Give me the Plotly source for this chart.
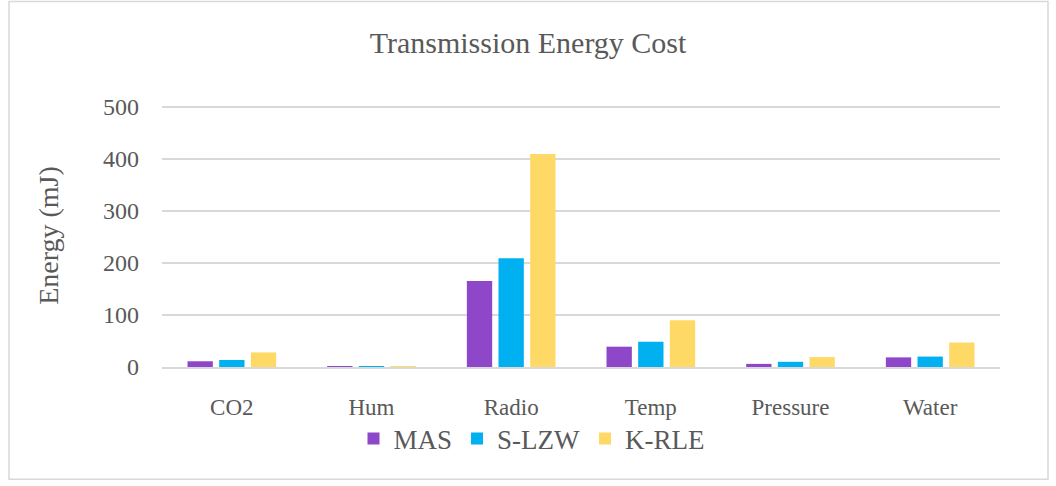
import plotly.graph_objects as go

categories = ["CO2", "Hum", "Radio", "Temp", "Pressure", "Water"]
mas = [11, 1, 165, 39, 6, 18.5]
slzw = [13.5, 1.2, 209, 48.5, 10, 20]
krle = [28, 1.4, 409, 90, 19, 47]
y_ticks = [0, 100, 200, 300, 400, 500]

series = [("MAS", mas, "#8E47C9"), ("S-LZW", slzw, "#00B0F0"), ("K-RLE", krle, "#FFD966")]

fig = go.Figure()
for name, vals, col in series:
    fig.add_trace(go.Bar(x=categories, y=vals, name=name, marker=dict(color=col, line=dict(width=0))))

font_family = "Liberation Serif"
grey = "#595959"

pw, ph = 838, 262.6
x0 = (9 - 162) / pw
x1 = (1048 - 162) / pw
y0 = (367 - 479) / ph
y1 = (367 - 2) / ph

fig.update_layout(
    width=1056, height=486,
    paper_bgcolor="white", plot_bgcolor="white",
    margin=dict(l=162, r=56, t=104.4, b=119),
    barmode="group", bargap=0.32, bargroupgap=0.2,
    font=dict(family=font_family, color=grey),
    title=dict(text="Transmission Energy Cost", x=0.5, xanchor="center", y=1 - 42/486, yanchor="middle",
               font=dict(size=30, color=grey, family=font_family)),
    showlegend=True,
    legend=dict(orientation="h", x=(532 - 162) / pw, xanchor="center", y=-0.18, yanchor="top",
                font=dict(size=27, color=grey, family=font_family), itemwidth=30,
                bgcolor="rgba(0,0,0,0)"),
    shapes=[dict(type="rect", xref="paper", yref="paper", x0=x0, x1=x1, y0=y0, y1=y1,
                 line=dict(color="#D9D9D9", width=1.5), layer="below")],
)

fig.update_yaxes(range=[0, 505], tickvals=y_ticks, showgrid=True, gridcolor="#D9D9D9", gridwidth=1.5,
                 zeroline=False, showline=False, ticklabelstandoff=22,
                 tickfont=dict(size=24, color=grey, family=font_family),
                 title=dict(text="Energy (mJ)", standoff=36, font=dict(size=28, color=grey, family=font_family)))
fig.update_xaxes(showline=True, linecolor="#D9D9D9", linewidth=1.5, ticks="", ticklabelstandoff=19,
                 tickfont=dict(size=23, color=grey, family=font_family))

fig.write_html("out.html")
